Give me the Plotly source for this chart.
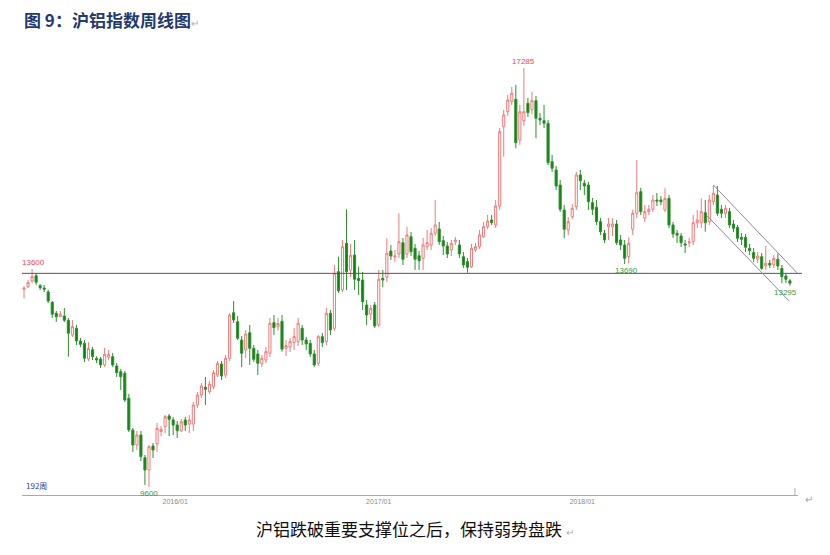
import plotly.graph_objects as go

# weekly OHLC of the SHFE aluminium index, 191 bars
opens = [
    13230, 13275, 13380, 13477, 13294, 13250, 13178, 12990, 12788, 12725,
    12738, 12660, 12390, 12512, 12280, 12237, 11950, 12120, 11962, 11949,
    11840, 11980, 11992, 11821, 11717, 11687, 11228, 10647, 10372, 10555,
    10140, 9913, 10354, 10390, 10620, 10708, 10904, 10831, 10739, 10634,
    10831, 10757, 10757, 11106, 11289, 11430, 11350, 11442, 11656, 11858,
    11656, 11962, 12799, 12634, 12298, 12115, 12432, 12146, 12041, 11858,
    11931, 12054, 12616, 12540, 12640, 12146, 12170, 12250, 12267, 12512,
    12298, 12237, 12041, 11870, 12359, 12267, 12788, 12512, 13551, 13215,
    14071, 13580, 13857, 13429, 13398, 12940, 12775, 12940, 12573, 13429,
    13448, 13930, 13820, 13875, 14082, 13875, 14192, 13980, 13844, 13796,
    14009, 14040, 14255, 14334, 14120, 14022, 13948, 14100, 14040, 13826,
    13734, 13642, 13950, 14009, 14192, 14376, 14499, 14407, 14755, 16210,
    16485, 16669, 16712, 15966, 16320, 16639, 16522, 16687, 16364, 16320,
    16272, 15568, 15416, 15140, 14682, 14315, 14560, 14743, 15324, 15172,
    15140, 14816, 14731, 14468, 14255, 14376, 14370, 14425, 14132, 14040,
    13826, 14328, 14621, 15018, 14530, 14651, 14695, 14865, 14865, 14682,
    14896, 14407, 14255, 14205, 14058, 14080, 14100, 14449, 14449, 14633,
    14468, 14834, 14957, 14695, 14621, 14651, 14425, 14364, 14181, 14181,
    13980, 13900, 13778, 13826, 13655, 13704, 13673, 13778, 13612, 13472,
    13385,
]
highs = [
    13280, 13398, 13600, 13527, 13325, 13307, 13215, 13013, 12830, 12830,
    12885, 12701, 12665, 12573, 12335, 12298, 12256, 12170, 11999, 11986,
    12157, 12115, 12060, 11876, 11766, 11729, 11307, 10684, 10629, 10629,
    10189, 10372, 10409, 10776, 10720, 10922, 10941, 10886, 10812, 10849,
    10886, 10922, 11161, 11344, 11509, 11619, 11546, 11748, 11913, 11913,
    12023, 12793, 13013, 12738, 12371, 12481, 12573, 12206, 12115, 12023,
    12170, 12701, 12756, 12700, 12756, 12298, 12335, 12518, 12701, 12573,
    12353, 12298, 12115, 12390, 12426, 12885, 12848, 13673, 13826, 14132,
    14695, 14060, 14132, 13642, 13545, 13031, 12940, 12995, 13582, 13582,
    14163, 14040, 13948, 14621, 14169, 14376, 14279, 14058, 13930, 14169,
    14315, 14352, 14865, 14462, 14205, 14095, 14132, 14187, 14132, 13912,
    13802, 14058, 14077, 14315, 14462, 14590, 14590, 14865, 16186, 16516,
    16791, 16938, 16975, 16608, 17285, 16736, 16852, 16773, 16461, 16608,
    16333, 15691, 15489, 15232, 14774, 14554, 14792, 15379, 15416, 15232,
    15196, 14902, 14865, 14535, 14315, 14535, 14530, 14499, 14224, 14132,
    14181, 14682, 15599, 15086, 14774, 14774, 14957, 14994, 14938, 15080,
    14957, 14462, 14315, 14260, 14132, 14169, 14590, 14682, 14896, 14865,
    14957, 15140, 15122, 14774, 14774, 14719, 14499, 14407, 14260, 14242,
    14058, 13985, 13912, 13893, 14022, 13765, 13857, 13888, 13673, 13527,
    13417,
]
lows = [
    13060, 13250, 13343, 13307, 13215, 13178, 12976, 12701, 12628, 12720,
    12628, 11992, 12353, 12206, 12170, 11894, 11913, 11931, 11876, 11784,
    11803, 11931, 11803, 11620, 11381, 11160, 10610, 10244, 10280, 10079,
    9639, 9600, 10134, 10244, 10537, 10592, 10537, 10555, 10500, 10610,
    10629, 10592, 10629, 11050, 11234, 11106, 11308, 11399, 11619, 11564,
    11601, 11913, 12610, 12298, 11800, 11968, 11840, 11894, 11656, 11803,
    11876, 11986, 12390, 12470, 12084, 12004, 12078, 12115, 12188, 12206,
    12115, 11986, 11803, 11821, 12170, 12206, 12390, 12463, 13160, 13178,
    13215, 13450, 13215, 13123, 12848, 12573, 12665, 12518, 12536, 13264,
    13362, 13765, 13728, 13802, 13673, 13802, 13838, 13582, 13582, 13582,
    13948, 13948, 14205, 14040, 13857, 13802, 13838, 14040, 13802, 13618,
    13532, 13618, 13912, 13967, 14169, 14334, 14407, 14352, 14682, 15660,
    16406, 16608, 15814, 15874, 16223, 16388, 16443, 15997, 16240, 16186,
    15507, 15379, 15049, 14645, 14163, 14224, 14517, 14682, 15049, 14957,
    14682, 14590, 14407, 14224, 14077, 14132, 14205, 14040, 13948, 13690,
    13704, 14224, 14535, 14590, 14462, 14590, 14645, 14755, 14774, 14645,
    14352, 14169, 14077, 14003, 13893, 14003, 14040, 14352, 14352, 14284,
    14407, 14774, 14572, 14535, 14535, 14352, 14279, 14095, 14040, 13912,
    13857, 13728, 13710, 13582, 13582, 13618, 13618, 13582, 13338, 13343,
    13295,
]
closes = [
    13250, 13349, 13459, 13356, 13257, 13230, 13013, 12770, 12725, 12770,
    12660, 12421, 12542, 12280, 12219, 11962, 12146, 11992, 11931, 11840,
    12035, 12035, 11840, 11699, 11625, 11197, 10647, 10372, 10555, 10158,
    9913, 10340, 10280, 10678, 10660, 10892, 10843, 10739, 10634, 10800,
    10739, 10831, 11106, 11289, 11454, 11393, 11490, 11698, 11870, 11638,
    11962, 12756, 12665, 12329, 12054, 12408, 12146, 11944, 11870, 11962,
    12084, 12604, 12524, 12600, 12130, 12194, 12267, 12359, 12604, 12298,
    12225, 12041, 11840, 12359, 12250, 12788, 12481, 13521, 13202, 14009,
    13551, 13850, 13411, 13385, 13000, 12756, 12879, 12555, 13411, 13398,
    13888, 13838, 13838, 14100, 13778, 14224, 13917, 13778, 13752, 14040,
    14082, 14255, 14407, 14100, 14022, 13875, 14071, 14132, 13875, 13673,
    13631, 13980, 14009, 14224, 14376, 14480, 14450, 14755, 16118, 16425,
    16700, 16822, 15917, 16485, 16485, 16467, 16687, 16364, 16333, 16272,
    15550, 15447, 15122, 14695, 14328, 14468, 14713, 15324, 15220, 15122,
    14834, 14695, 14468, 14284, 14132, 14425, 14425, 14082, 14040, 13796,
    14071, 14621, 14999, 14651, 14651, 14695, 14865, 14847, 14834, 14896,
    14407, 14242, 14218, 14082, 14040, 14095, 14449, 14499, 14651, 14449,
    14865, 14988, 14621, 14621, 14713, 14407, 14346, 14163, 14145, 13998,
    13936, 13796, 13838, 13612, 13704, 13673, 13796, 13655, 13459, 13411,
    13338,
]
weeks = list(range(len(closes)))

# year ticks (bar index of the first week of january)
tick_pos = [37.5, 88, 138.5]
tick_txt = ["2016/01", "2017/01", "2018/01"]

support_level = 13520
# channel lines: (bar, price) end points
chan_upper = [(171, 15141), (191.8, 13527)]
chan_lower = [(169.5, 14572), (189.8, 13013)]

# marked extremes: (bar, price, text, colour, side)
marks = [
    (2.3, 13600, "13600", "#e8474f", "bottom"),
    (124, 17285, "17285", "#e8474f", "bottom"),
    (31, 9600, "9600", "#3c9a3c", "top"),
    (149.5, 13690, "13690", "#3c9a3c", "top"),
    (189, 13295, "13295", "#3c9a3c", "top"),
]

fig = go.Figure()

fig.add_trace(go.Candlestick(
    x=weeks, open=opens, high=highs, low=lows, close=closes,
    increasing=dict(line=dict(color="#f07a7a", width=1), fillcolor="#ffffff"),
    decreasing=dict(line=dict(color="#2e8f2e", width=1), fillcolor="#0c840c"),
    whiskerwidth=0,
    showlegend=False,
    hoverinfo="x+y",
))

# support line
fig.add_shape(type="line", xref="paper", yref="y", x0=0, x1=1.005,
              y0=support_level, y1=support_level,
              line=dict(color="#555555", width=1))

# down channel
for (xa, ya), (xb, yb) in (chan_upper, chan_lower):
    fig.add_shape(type="line", xref="x", yref="y", x0=xa, y0=ya, x1=xb, y1=yb,
                  line=dict(color="#8c8c8c", width=1))

# small end tick on the time axis
fig.add_shape(type="line", xref="paper", yref="paper", x0=0.996, x1=0.996,
              y0=0, y1=0.016, line=dict(color="#b0b0b0", width=1))

for x, y, txt, col, side in marks:
    fig.add_annotation(x=x, y=y, text=txt, showarrow=False,
                       yanchor=side, xanchor="center",
                       font=dict(size=8, color=col, family="Liberation Sans"))

# title and caption
fig.add_annotation(xref="paper", yref="paper", x=0.0, y=1.068,
                   xanchor="left", yanchor="middle", showarrow=False,
                   text="<b>图 9：沪铝指数周线图</b><span style='color:#b0b0b0;font-size:10px'>↵</span>",
                   font=dict(size=17, color="#1f3a6e", family="Noto Sans CJK SC"))
fig.add_annotation(xref="paper", yref="paper", x=0.5065, y=-0.0764,
                   xanchor="center", yanchor="middle", showarrow=False,
                   text="沪铝跌破重要支撑位之后，保持弱势盘跌 <span style='color:#b0b0b0;font-size:10px'>↵</span>",
                   font=dict(size=17, color="#111111", family="Noto Sans CJK SC"))
fig.add_annotation(xref="paper", yref="paper", x=0.002, y=0.005,
                   xanchor="left", yanchor="bottom", showarrow=False,
                   text="192周", font=dict(size=8, color="#2a3f9a", family="Noto Sans CJK SC"))
fig.add_annotation(xref="paper", yref="paper", x=1.006, y=-0.009,
                   xanchor="left", yanchor="middle", showarrow=False,
                   text="↵", font=dict(size=10, color="#a0a0a0"))

fig.update_xaxes(
    range=[-0.5, 192], showgrid=False, zeroline=False,
    rangeslider=dict(visible=False),
    showline=True, linecolor="#a8a8a8", linewidth=1,
    tickvals=tick_pos, ticktext=tick_txt, ticks="",
    tickfont=dict(size=7, color="#8a8a8a", family="Liberation Sans"),
)
fig.update_yaxes(range=[9455, 17616], visible=False, showgrid=False)

# the page puts the figure 8px in from the top-left corner
fig.update_layout(
    width=822, height=547,
    margin=dict(l=14, r=32, t=42, b=60),
    paper_bgcolor="white", plot_bgcolor="white",
    boxgap=0.25,
)

fig.write_html("out.html")
